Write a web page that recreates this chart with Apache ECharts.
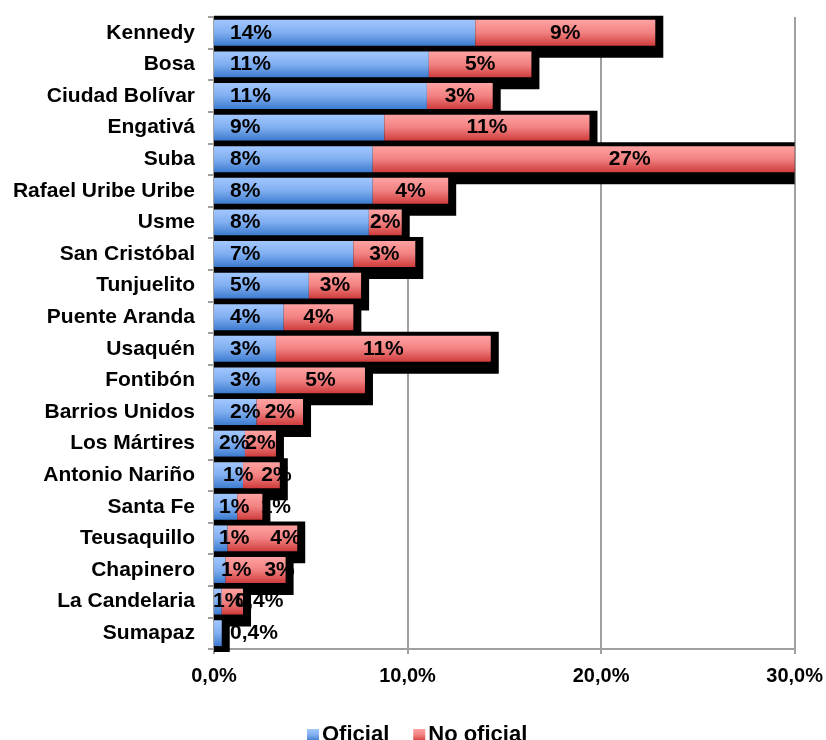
<!DOCTYPE html>
<html>
<head>
<meta charset="utf-8">
<script src="https://cdn.jsdelivr.net/npm/echarts@6/dist/echarts.min.js"></script>
<style>
html,body{margin:0;padding:0;background:#fff;}
#chart{width:826px;height:740px;}
</style>
</head>
<body>
<div id="chart"></div>
<script>
// ---- data ----
const categories = ['Kennedy','Bosa','Ciudad Bolívar','Engativá','Suba','Rafael Uribe Uribe','Usme','San Cristóbal','Tunjuelito','Puente Aranda','Usaquén','Fontibón','Barrios Unidos','Los Mártires','Antonio Nariño','Santa Fe','Teusaquillo','Chapinero','La Candelaria','Sumapaz'];
const oficial   = [13.5, 11.1, 11.0, 8.8, 8.2, 8.2, 8.0, 7.2, 4.9, 3.6, 3.2, 3.2, 2.2, 1.6, 1.5, 1.2, 0.7, 0.6, 0.4, 0.4];
const noOficial = [9.3, 5.3, 3.4, 10.6, 27.0, 3.9, 1.7, 3.2, 2.7, 3.6, 11.1, 4.6, 2.4, 1.6, 1.9, 1.3, 3.6, 3.1, 1.1, 0];
const oficialLabels   = ['14%','11%','11%','9%','8%','8%','8%','7%','5%','4%','3%','3%','2%','2%','1%','1%','1%','1%','1%','0,4%'];
const noOficialLabels = ['9%','5%','3%','11%','27%','4%','2%','3%','3%','4%','11%','5%','2%','2%','2%','1%','4%','3%','0,4%',''];
const xTicks = [0, 10, 20, 30];
const seriesNames = ['Oficial', 'No oficial'];

// ---- styling (label nudges in px, not data) ----
const oficialNudge   = {13: -11, 14: -7, 15: -11, 16: -11, 17: -9, 18: -17};
const noOficialNudge = {4: 46, 14: 15, 15: 26, 16: 23, 17: 24, 18: 27};

const FONT = 'Arial, "Liberation Sans", sans-serif';
const blueGrad = new echarts.graphic.LinearGradient(0, 0, 0, 1, [
  {offset: 0, color: '#A2C7FF'}, {offset: 0.5, color: '#80AEF0'}, {offset: 1, color: '#3C7BCF'}
]);
const redGrad = new echarts.graphic.LinearGradient(0, 0, 0, 1, [
  {offset: 0, color: '#FFA2A2'}, {offset: 0.5, color: '#F28181'}, {offset: 1, color: '#CF3C3C'}
]);

const totals = oficial.map((v, i) => v + noOficial[i]);
const xMax = xTicks[xTicks.length - 1];

const chart = echarts.init(document.getElementById('chart'), null, {renderer: 'canvas'});

const labelBase = {
  show: true, color: '#000', fontFamily: FONT, fontWeight: 'bold', fontSize: 21
};

chart.setOption({
  animation: false,
  backgroundColor: '#ffffff',
  grid: {left: 214, right: 30, top: 17, bottom: 91, containLabel: false},
  legend: {
    data: seriesNames,
    left: 302, top: 719,
    icon: 'rect', itemWidth: 12, itemHeight: 12, itemGap: 24,
    textStyle: {fontFamily: FONT, fontWeight: 'bold', fontSize: 22, color: '#000', padding: [0, 0, 0, -2]}
  },
  xAxis: {
    type: 'value', min: xTicks[0], max: xMax, interval: xTicks[1] - xTicks[0],
    axisLine: {show: true, lineStyle: {color: '#A0A0A0', width: 2}},
    axisTick: {show: true, length: 5, lineStyle: {color: '#A0A0A0', width: 2}},
    splitLine: {show: true, lineStyle: {color: '#A0A0A0', width: 2}},
    axisLabel: {
      margin: 17, color: '#000', fontFamily: FONT, fontWeight: 'bold', fontSize: 20,
      formatter: v => v.toFixed(1).replace('.', ',') + '%'
    }
  },
  yAxis: {
    type: 'category', data: categories, inverse: true,
    axisLine: {show: true, lineStyle: {color: '#A0A0A0', width: 2}},
    axisTick: {show: true, length: 6, lineStyle: {color: '#A0A0A0', width: 2}},
    axisLabel: {margin: 19, color: '#000', fontFamily: FONT, fontWeight: 'bold', fontSize: 21}
  },
  series: [
    {
      name: 'shadow', type: 'custom', z: 1, silent: true, legendHoverLink: false,
      data: totals.map((t, i) => [t, i]),
      encode: {x: 0, y: 1},
      renderItem: function (params, api) {
        const idx = api.value(1);
        const end = api.coord([api.value(0), idx]);
        const start = api.coord([0, idx]);
        const band = api.size([0, 1])[1];
        const rightLimit = api.coord([xMax, idx])[0];
        const bottomLimit = api.coord([0, categories.length - 1])[1] + band / 2 + 3;
        const half = band * 0.41;
        const x1 = start[0];
        const x2 = Math.min(end[0] + 8, rightLimit);
        const y1 = end[1] - half - 4;
        const y2 = Math.min(end[1] + half + 12, bottomLimit);
        return {type: 'rect', shape: {x: x1, y: y1, width: x2 - x1, height: y2 - y1}, style: {fill: '#000'}};
      }
    },
    {
      name: seriesNames[0], type: 'bar', stack: 'total', z: 2,
      barCategoryGap: '18%',
      itemStyle: {color: blueGrad},
      label: Object.assign({}, labelBase, {position: 'insideLeft', distance: 16}),
      data: oficial.map((v, i) => ({
        value: v,
        label: {formatter: oficialLabels[i], offset: [oficialNudge[i] || 0, 0]}
      }))
    },
    {
      name: seriesNames[1], type: 'bar', stack: 'total', z: 2,
      barCategoryGap: '18%',
      itemStyle: {color: redGrad},
      label: Object.assign({}, labelBase, {position: 'inside'}),
      data: noOficial.map((v, i) => ({
        value: v,
        label: {show: noOficialLabels[i] !== '', formatter: noOficialLabels[i], offset: [noOficialNudge[i] || 0, 0]}
      }))
    }
  ]
});
</script>
</body>
</html>
